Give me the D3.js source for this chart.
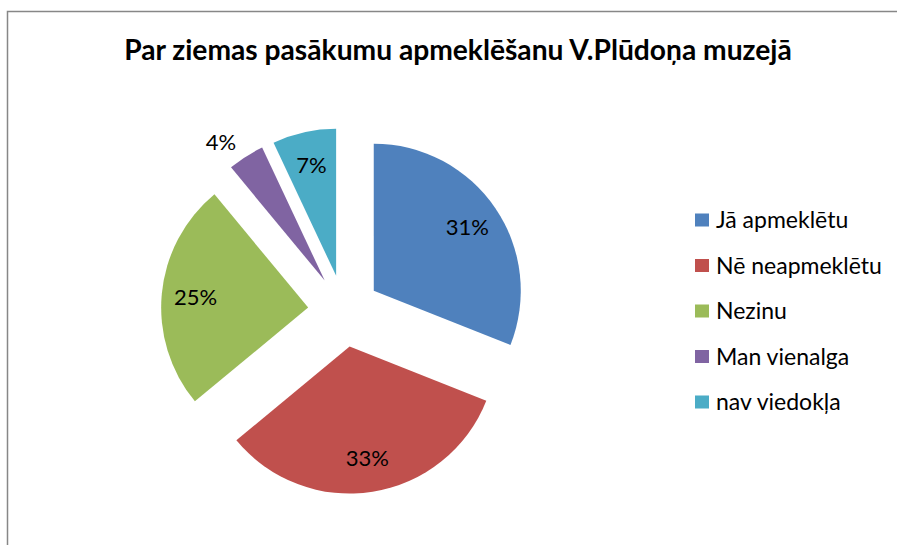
<!DOCTYPE html>
<html>
<head>
<meta charset="utf-8">
<script src="https://cdn.jsdelivr.net/npm/d3@7"></script>
<style>
  body { margin: 0; background: #fff; }
  svg { display: block; font-family: Lato, "Open Sans", sans-serif; }
</style>
</head>
<body>
<svg id="chart" width="897" height="545"></svg>
<script>
// données du graphique
const categories = ["Jā apmeklētu", "Nē neapmeklētu", "Nezinu", "Man vienalga", "nav viedokļa"];
const values = [31, 33, 25, 4, 7];
const colors = ["#4F81BD", "#C0504D", "#9BBB59", "#8064A2", "#4BACC6"];
const title = "Par ziemas pasākumu apmeklēšanu V.Plūdoņa muzejā";

const width = 897, height = 545;
const cx = 344, cy = 311, radius = 147, explode = 36;

const svg = d3.select("#chart");

// cadre
svg.append("rect")
    .attr("x", 7.5)
    .attr("y", 11.5)
    .attr("width", width)
    .attr("height", height)
    .attr("fill", "none")
    .attr("stroke", "#878787")
    .attr("stroke-width", 1.5);

svg.append("text")
    .attr("x", 458)
    .attr("y", 60)
    .attr("text-anchor", "middle")
    .attr("font-weight", "bold")
    .attr("font-size", 28.2)
    .attr("fill", "#000")
    .text(title);

const pie = d3.pie().sort(null).value(d => d)(values);
const arc = d3.arc().innerRadius(0).outerRadius(radius);

const total = d3.sum(values);
const fmt = v => Math.round(v / total * 100) + "%";

const dir = d => {
  const a = (d.startAngle + d.endAngle) / 2;
  return [Math.sin(a), -Math.cos(a)];
};

const slice = svg.append("g")
    .attr("transform", `translate(${cx},${cy})`)
  .selectAll("g")
  .data(pie)
  .join("g")
    .attr("transform", d => {
      const [dx, dy] = dir(d);
      return `translate(${dx * explode},${dy * explode})`;
    });

slice.append("path")
    .attr("d", arc)
    .attr("fill", (d, i) => colors[i]);

// étiquettes : dedans, sauf la petite tranche
slice.append("text")
    .attr("text-anchor", "middle")
    .attr("dy", "0.35em")
    .attr("font-size", 22)
    .attr("fill", "#000")
    .attr("transform", d => {
      const [dx, dy] = dir(d);
      if (d.value / total < 0.05) {
        const r = radius + 26;
        return `translate(${dx * r - 11},${dy * r + 8})`;
      }
      const r = radius * 0.77;
      return `translate(${dx * r},${dy * r})`;
    })
    .text(d => fmt(d.value));

// légende
const legend = svg.append("g")
  .selectAll("g")
  .data(categories)
  .join("g")
    .attr("transform", (d, i) => `translate(695,${220 + i * 45.5})`);

legend.append("rect")
    .attr("y", -6.5)
    .attr("width", 14)
    .attr("height", 13)
    .attr("fill", (d, i) => colors[i]);

legend.append("text")
    .attr("x", 21)
    .attr("dy", "0.35em")
    .attr("font-size", 23)
    .attr("fill", "#000")
    .text(d => d);
</script>
</body>
</html>
